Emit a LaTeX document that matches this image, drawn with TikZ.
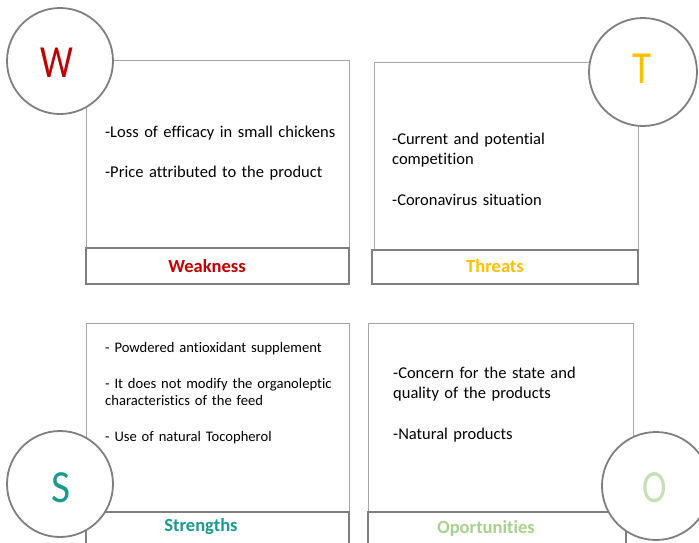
\documentclass[tikz,border=0pt]{standalone}
\usepackage{fontspec}
\setmainfont{Carlito}[Ligatures=NoCommon, WordSpace={0.85,0,0}]
\definecolor{panelgray}{HTML}{A6A6A6}
\definecolor{taggray}{HTML}{7F7F7F}
\definecolor{ringgray}{HTML}{7F7F7F}
\definecolor{wred}{HTML}{C00000}
\definecolor{tgold}{HTML}{FFC000}
\definecolor{steal}{HTML}{1A9A8E}
\definecolor{ogreen}{HTML}{A9D18E}
\definecolor{olight}{HTML}{C5E0B4}
\begin{document}
\begin{tikzpicture}[x=1pt,y=-1pt,
  panel/.style={draw=panelgray, line width=1pt},
  tagbox/.style={draw=taggray, line width=1.8pt, fill=white},
  ring/.style={circle, draw=ringgray, line width=1.8pt, fill=white, inner sep=0pt},
  letter/.style={inner sep=0pt, font=\fontsize{46}{46}\selectfont},
  tagtext/.style={inner sep=0pt, font=\fontsize{18.5}{20}\selectfont\bfseries},
  body/.style={anchor=base west, inner sep=0pt, align=left, text width=250pt,
    font=\fontsize{16.5}{20.4}\selectfont},
  smallbody/.style={anchor=base west, inner sep=0pt, align=left, text width=240pt,
    font=\fontsize{14.6}{17.7}\selectfont}
]
\useasboundingbox (0,0) rectangle (699,542);

% panels
\draw[panel] (86,60) rectangle (349,248);
\draw[panel] (374,62) rectangle (638,250);
\draw[panel] (86,323) rectangle (349,512);
\draw[panel] (368,323) rectangle (633,512);

% title bars
\draw[tagbox] (86,248) rectangle (349,284);
\draw[tagbox] (372,250) rectangle (638,284);
\draw[tagbox] (86,512) rectangle (349,562);
\draw[tagbox] (368,512) rectangle (626,562);

\node[tagtext, text=wred] (wlab) at (207,266) {Weakness};
\node[tagtext, text=tgold] (tlab) at (495,266) {Threats};
\node[tagtext, text=steal] (slab) at (201,527) {Strengths};
\node[tagtext, text=ogreen] (olab) at (486,528) {Oportunities};

% panel contents
\node[body] (wtext) at (105,137)
  {-Loss of efficacy in small chickens\\[20.4pt]-Price attributed to the product};
\node[body] (ttext) at (392,144)
  {-Current and potential\\competition\\[20.4pt]-Coronavirus situation};
\node[smallbody] (stext) at (105,352.7)
  {- Powdered antioxidant supplement\\[17.6pt]- It does not modify the organoleptic\\characteristics of the feed\\[17.6pt]- Use of natural Tocopherol};
\node[body] (otext) at (393,378)
  {-Concern for the state and\\quality of the products\\[20.4pt]-Natural products};

% letter badges
\node[ring, minimum size=106pt] (wc) at (60,61) {};
\node[ring, minimum size=108pt] (tc) at (643,72) {};
\node[ring, minimum size=106pt] (sc) at (60,484) {};
\node[ring, minimum size=108pt] (oc) at (656,486) {};

\node[letter, text=wred] (wl) at (57,63) {\scalebox{0.8}[1]{W}};
\node[letter, text=tgold] (tl) at (642,69) {\scalebox{0.85}[1]{T}};
\node[letter, text=steal] (sl) at (61,488) {\scalebox{0.9}[1]{S}};
\node[letter, text=olight] (ol) at (655,488) {\scalebox{0.8}[1]{O}};
\end{tikzpicture}
\end{document}
